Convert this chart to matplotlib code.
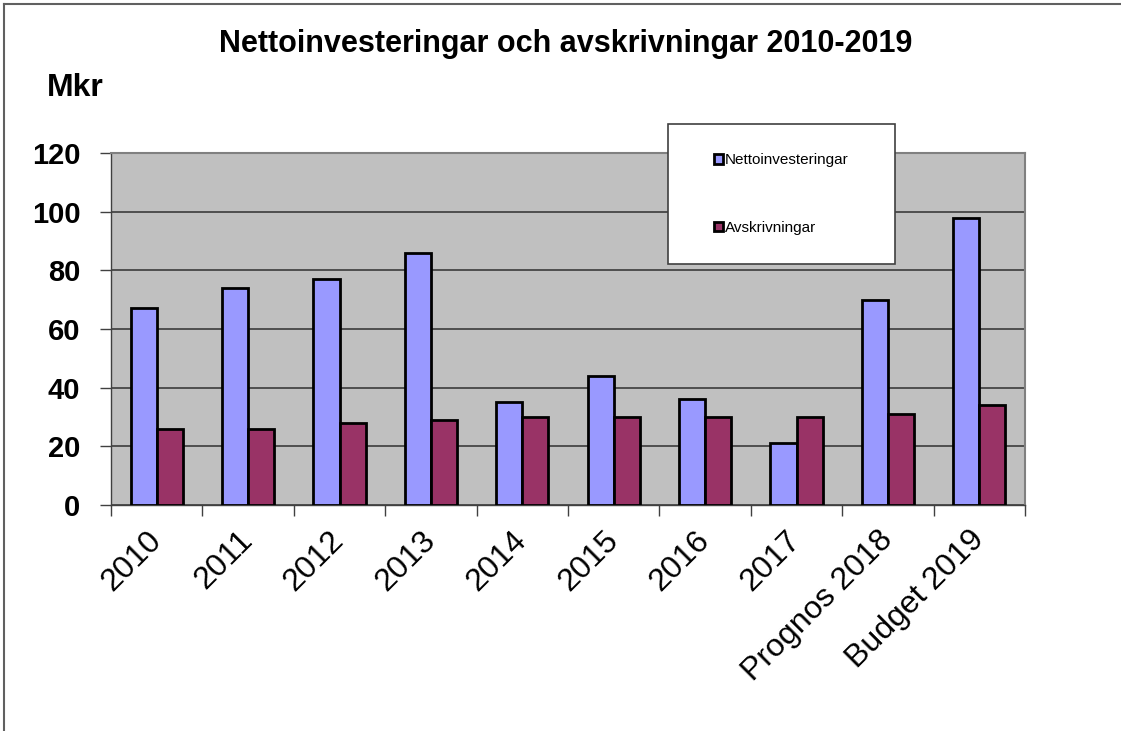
import matplotlib
matplotlib.use("Agg")
import matplotlib.pyplot as plt
from matplotlib.patches import Rectangle
from matplotlib.lines import Line2D
import numpy as np

categories = ["2010", "2011", "2012", "2013", "2014", "2015", "2016", "2017",
              "Prognos 2018", "Budget 2019"]
netto = [67, 74, 77, 86, 35, 44, 36, 21, 70, 98]
avskr = [26, 26, 28, 29, 30, 30, 30, 30, 31, 34]
yticks = [0, 20, 40, 60, 80, 100, 120]

plt.rcParams['font.family'] = ['Liberation Sans', 'DejaVu Sans']

W, H = 1121, 731
fig = plt.figure(figsize=(W / 100, H / 100), dpi=100)
fig.patch.set_facecolor('white')

L, R, T, B = 111, 1025, 153, 505
ax = fig.add_axes([L / W, 1 - B / H, (R - L) / W, (B - T) / H])
ax.set_facecolor('#C0C0C0')

x = np.arange(len(categories))
bw = 0.285
ax.bar(x - bw / 2, netto, bw, color='#9999FF', edgecolor='black', linewidth=2.0,
       label='Nettoinvesteringar', zorder=3)
ax.bar(x + bw / 2, avskr, bw, color='#993366', edgecolor='black', linewidth=2.0,
       label='Avskrivningar', zorder=3)

ax.set_xlim(-0.5, len(categories) - 0.5)
ax.set_ylim(0, 120)
ax.set_yticks(yticks)
ax.set_yticklabels([str(v) for v in yticks], fontsize=21, fontweight='bold')
ax.yaxis.grid(True, color='#303030', linewidth=1.1, zorder=1)
ax.set_axisbelow(True)

# category ticks at boundaries, labels at centres
ax.set_xticks(np.arange(len(categories) + 1) - 0.5)
ax.set_xticklabels([])
ax.set_xticks(x, minor=True)
ax.set_xticklabels(categories, minor=True, fontsize=23, rotation=45,
                   ha='right', va='center', rotation_mode='anchor')
ax.tick_params(axis='x', which='minor', length=0, pad=22)
ax.tick_params(axis='x', which='major', length=8, width=1, color='#404040', direction='out')
ax.tick_params(axis='y', length=8, width=1, color='#404040', direction='out', pad=14)

for s in ['top', 'right']:
    ax.spines[s].set_color('#808080')
    ax.spines[s].set_linewidth(1.5)
ax.spines['left'].set_color('#404040')
ax.spines['bottom'].set_color('#404040')
ax.spines['left'].set_linewidth(1.0)
ax.spines['bottom'].set_linewidth(1.0)

# title and unit label
fig.text(566 / W, 1 - 44 / H, 'Nettoinvesteringar och avskrivningar 2010-2019',
         ha='center', va='center', fontsize=22, fontweight='bold')
fig.text(47 / W, 1 - 88 / H, 'Mkr', ha='left', va='center', fontsize=23, fontweight='bold')

# legend box
lx0, ly0, lx1, ly1 = 668, 124, 895, 264
fig.patches.append(Rectangle((lx0 / W, 1 - ly1 / H), (lx1 - lx0) / W, (ly1 - ly0) / H,
                             transform=fig.transFigure, facecolor='white',
                             edgecolor='#404040', linewidth=1.2, zorder=5))
leg = fig.legend(loc='center', bbox_to_anchor=((lx0 + lx1) / 2 / W, 1 - (ly0 + ly1) / 2 / H),
                 frameon=False, fontsize=11, handlelength=0.6, handleheight=0.6,
                 handletextpad=0.1, labelspacing=3.5)
leg.set_zorder(6)
for h in leg.legend_handles:
    h.set_linewidth(2.0)

# figure border (top and left)
fig.lines.append(Line2D([4 / W, 4 / W], [0, 1 - 4 / H], transform=fig.transFigure,
                        color='#606060', linewidth=1.5))
fig.lines.append(Line2D([4 / W, 1], [1 - 4 / H, 1 - 4 / H], transform=fig.transFigure,
                        color='#606060', linewidth=1.5))

fig.savefig('out.png', dpi=100)
